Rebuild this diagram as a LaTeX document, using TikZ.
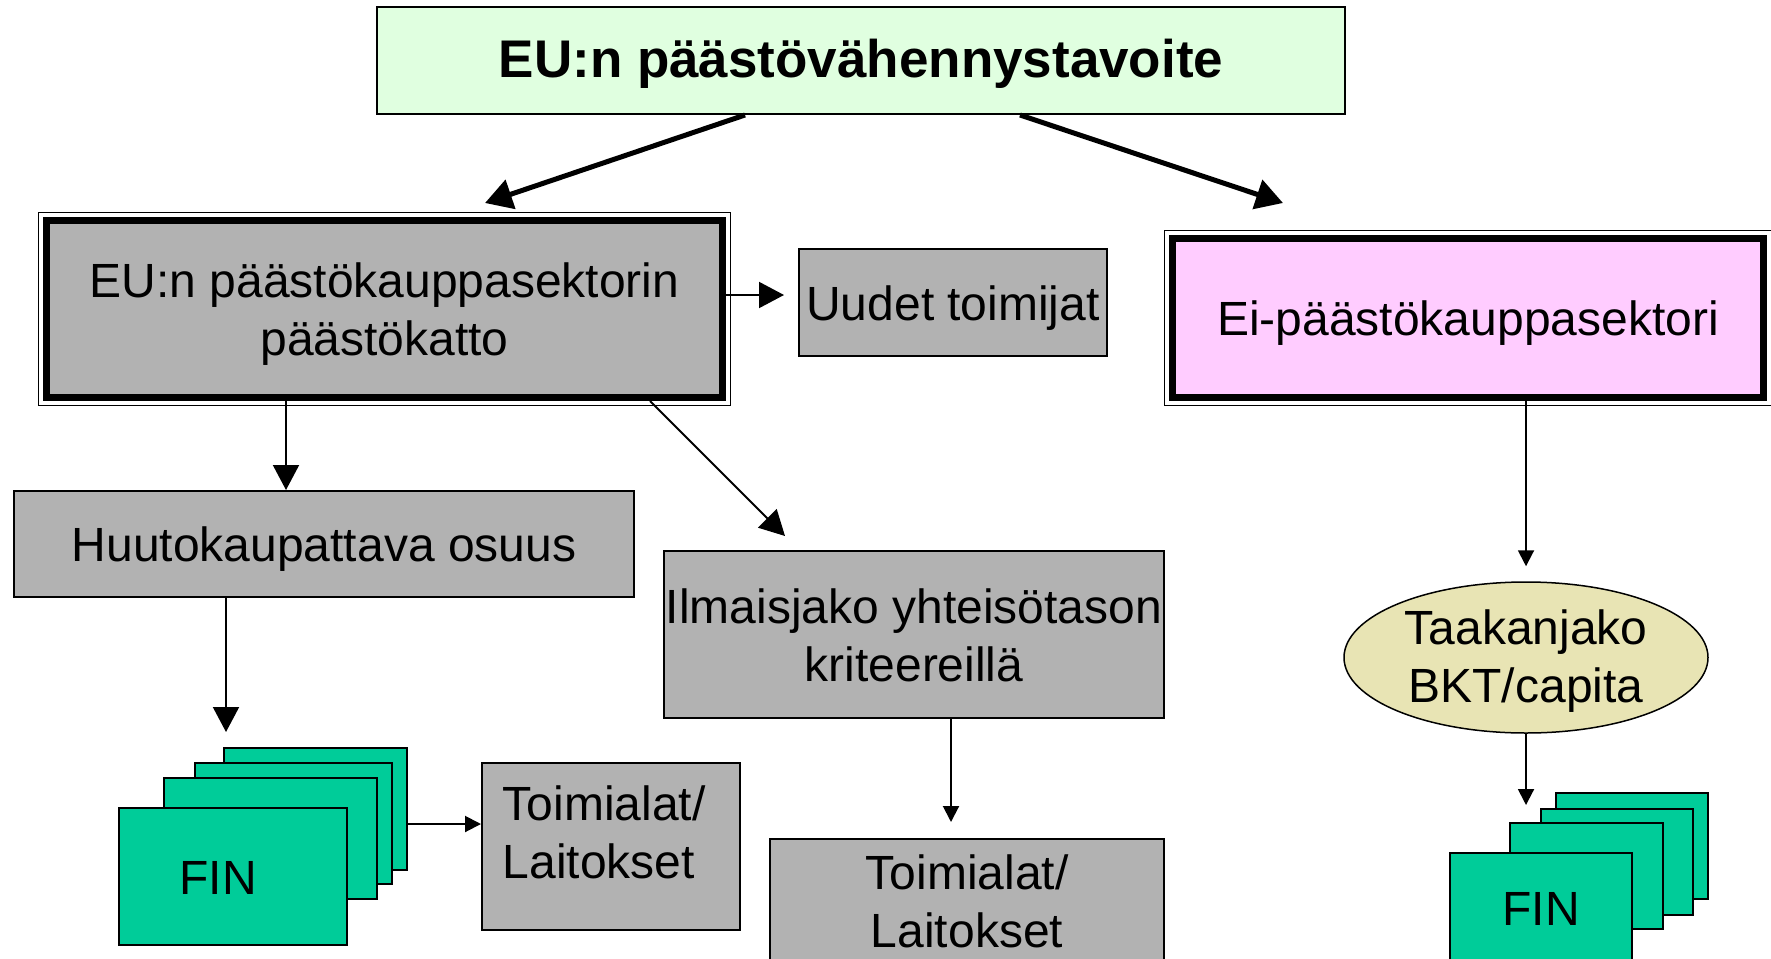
\documentclass[tikz,border=0pt]{standalone}
\usepackage{fontspec}
\setmainfont{Liberation Sans}
\usetikzlibrary{arrows.meta,shapes.geometric,fit}
\definecolor{boxgray}{RGB}{178,178,178}
\definecolor{goalgreen}{RGB}{224,255,224}
\definecolor{netspink}{RGB}{255,204,255}
\definecolor{fingreen}{RGB}{0,204,153}
\definecolor{burdenkhaki}{RGB}{232,228,180}
\def\bodyfnt{\fontsize{48}{58}\selectfont}
\def\titlefnt{\fontsize{53}{63}\selectfont\bfseries}
\begin{document}
\begin{tikzpicture}[
				x=1pt,y=-1pt,
				box/.style={rectangle,draw,line width=2pt,fill=boxgray,font=\bodyfnt,text height=35pt,text depth=0pt},
				twoline/.style={align=center,text height=93pt,text depth=0pt},
				sector/.style={rectangle,draw,line width=7pt,font=\bodyfnt,text height=35pt,text depth=0pt},
				dblframe/.style={rectangle,draw,line width=1.5pt,inner sep=4.5pt},
				card/.style={rectangle,draw,line width=2pt,fill=fingreen,font=\bodyfnt,text height=35pt,text depth=0pt},
				arrbig/.style={-{Triangle[length=27pt,width=30pt]},line width=5pt},
				arrmid/.style={-{Triangle[length=25pt,width=26pt]},line width=2pt},
				arrsml/.style={-{Triangle[length=16pt,width=16pt]},line width=2pt},
				inner sep=0pt]
				\useasboundingbox (0,0) rectangle (1771,958);
				\clip (0,0) rectangle (1771,958);
				\node [box,fill=goalgreen,font=\titlefnt,text height=34pt,minimum width=968pt,minimum height=107pt] (Goal) at (861,60.5) {EU:n päästövähennystavoite};
				\node [sector,fill=boxgray,twoline,minimum width=676pt,minimum height=177pt] (EtsCap) at (384.5,309) {EU:n päästökauppasektorin\\päästökatto};
					\node [dblframe,fit=(EtsCap)] (EtsFrame) {};
				\node [sector,fill=netspink,minimum width=591pt,minimum height=159pt] (NonEts) at (1468,318) {Ei-päästökauppasektori};
					\node [dblframe,fit=(NonEts)] (NonEtsFrame) {};
				\node [box,minimum width=308pt,minimum height=107pt] (NewEnt) at (953,302.5) {Uudet toimijat};
				\node [box,minimum width=620pt,minimum height=106pt] (Auction) at (324,544) {Huutokaupattava osuus};
				\node [box,twoline,minimum width=500pt,minimum height=167pt] (FreeAlloc) at (914,634.5) {Ilmaisjako yhteisötason\\kriteereillä};
				\node [box,twoline,align=left,text depth=30pt,minimum width=258pt,minimum height=167pt] (SectA) at (611,846.5) {Toimialat/\kern14pt\\Laitokset};
				\node [box,twoline,minimum width=394pt,minimum height=123pt] (SectB) at (967,900.5) {Toimialat/\\Laitokset};
				\node [ellipse,draw,line width=1.5pt,fill=burdenkhaki,font=\bodyfnt,twoline,text height=89pt,minimum width=364pt,minimum height=151pt] (Burden) at (1526,657.5) {Taakanjako\\BKT/capita};
				\node [card,minimum width=183pt,minimum height=122pt] (FinL1) at (315.5,809) {};
				\node [card,minimum width=197pt,minimum height=121pt] (FinL2) at (293.5,823.5) {};
				\node [card,minimum width=213pt,minimum height=121pt] (FinL3) at (270.5,838.5) {};
				\node [card,minimum width=228pt,minimum height=137pt] (FinL4) at (233,876.5) {FIN\kern30pt};
				\node [card,minimum width=152pt,minimum height=106pt] (FinR1) at (1632,846) {};
				\node [card,minimum width=152pt,minimum height=106pt] (FinR2) at (1617,862) {};
				\node [card,minimum width=153pt,minimum height=106pt] (FinR3) at (1586.5,876) {};
				\node [card,minimum width=182pt,minimum height=110pt] (FinR4) at (1541,908) {FIN};
				\draw [arrbig] ([xshift=-116pt]Goal.south) -- ([xshift=100.5pt,yshift=14pt]EtsCap.north);
				\draw [arrbig] ([xshift=159pt]Goal.south) -- ([xshift=-185pt,yshift=32pt]NonEts.north);
				\draw [arrmid] ([yshift=14pt]EtsCap.east) -- ([xshift=-14pt,yshift=7.5pt]NewEnt.west);
				\draw [arrmid] ([xshift=-98.5pt]EtsCap.south) -- ([xshift=-38pt]Auction.north);
				\draw [arrmid] ([xshift=265.5pt]EtsCap.south) -- ([xshift=-129pt,yshift=14pt]FreeAlloc.north);
				\draw [arrmid] ([xshift=-98pt]Auction.south) -- ([xshift=-89.5pt,yshift=15pt]FinL1.north);
				\draw [arrsml] ([yshift=-15pt]FinL1.east) -- ([yshift=22.5pt]SectA.west);
				\draw [arrsml] ([xshift=37pt]FreeAlloc.south) -- ([xshift=-16pt,yshift=16pt]SectB.north);
				\draw [arrsml] ([xshift=58pt]NonEts.south) -- ([yshift=15pt]Burden.north);
				\draw [arrsml] (Burden.south) -- ([xshift=-60.5pt,yshift=17pt]FinR3.north);
			\end{tikzpicture}
\end{document}
